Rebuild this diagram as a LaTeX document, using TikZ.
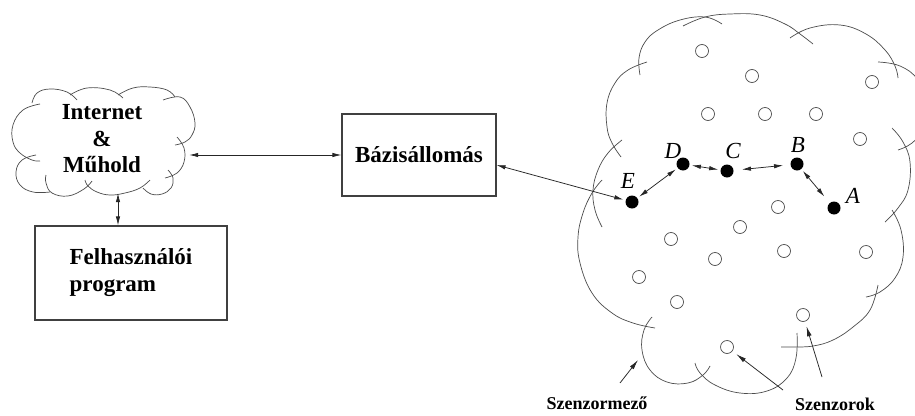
\documentclass[tikz,border=0pt]{standalone}
\usepackage{fontspec}
\setmainfont{Liberation Serif}
\usetikzlibrary{arrows.meta}

\tikzset{
  cloudline/.style={draw=black!70, line width=0.7pt},
  box/.style={draw=black!75, line width=1.1pt, font=\bfseries\fontsize{23}{27}\selectfont},
  link/.style={draw=black!85, line width=0.75pt, {Latex[length=9pt,width=4.4pt]}-{Latex[length=9pt,width=4.4pt]}},
  pointer/.style={draw=black!85, line width=0.75pt, -{Latex[length=10pt,width=4.6pt]}},
  sensor/.style={circle, draw=black!70, line width=0.7pt, fill=white, minimum size=13pt, inner sep=0pt},
  dot/.style={circle, fill=black, minimum size=13pt, inner sep=0pt, outer sep=2.5pt},
  letter/.style={font=\itshape\fontsize{23}{26}\selectfont, inner sep=0pt},
  caption/.style={font=\bfseries\fontsize{18}{21}\selectfont, inner sep=0pt},
}

\begin{document}
\begin{tikzpicture}[x=1pt, y=-1pt]
\path[use as bounding box, fill=white] (0,0) rectangle (915,415);

% ---------- Internet & satellite cloud ----------
\node[align=center, font=\bfseries\fontsize{23}{26.5}\selectfont,
      minimum width=174pt, minimum height=108pt, inner sep=0pt] (net) at (102,139)
  {Internet\\\&\\Műhold};
\draw[cloudline] plot[smooth, tension=0.7] coordinates {(32,103) (37,93) (50,89) (67,92) (77,100)};
\draw[cloudline] plot[smooth, tension=0.7] coordinates {(70,95) (87,88) (110,90) (123,98)};
\draw[cloudline] plot[smooth, tension=0.7] coordinates {(118,95) (133,88) (150,87) (167,90) (175,97)};
\draw[cloudline] plot[smooth, tension=0.7] coordinates {(163,100) (180,97) (190,107) (195,123) (192,135) (185,142) (175,145)};
\draw[cloudline] plot[smooth, tension=0.7] coordinates {(177,137) (184,148) (184,162) (177,173) (165,178)};
\draw[cloudline] plot[smooth, tension=0.7] coordinates {(168,170) (173,178) (171,188) (162,194) (151,194) (143,188)};
\draw[cloudline] plot[smooth, tension=0.7] coordinates {(150,180) (140,188) (125,193) (110,195) (97,192) (88,186) (85,180)};
\draw[cloudline] plot[smooth, tension=0.7] coordinates {(92,181) (84,189) (68,196) (52,193) (46,183) (46,175)};
\draw[cloudline] plot[smooth, tension=0.7] coordinates {(36,155) (22,160) (16,172) (20,185) (33,192) (50,192)};
\draw[cloudline] plot[smooth, tension=0.7] coordinates {(40,104) (23,110) (13,125) (13,142) (20,153) (32,160) (40,161)};

% ---------- boxes ----------
\node[box, minimum width=154pt, minimum height=82pt] (base) at (419,155) {Bázisállomás};
\node[box, minimum width=192pt, minimum height=94pt, align=left,
      font=\bfseries\fontsize{23}{27}\selectfont] (prog) at (131,273)
  {Felhasználói\\program};

% ---------- sensor field cloud ----------
\draw[cloudline] plot[smooth, tension=0.7] coordinates {(640,75) (639,58) (645,42) (658,30) (680,20) (705,17) (722,24)};
\draw[cloudline] plot[smooth, tension=0.7] coordinates {(683,26) (705,17) (730,14) (760,15) (785,24) (800,34) (813,44)};
\draw[cloudline] plot[smooth, tension=0.7] coordinates {(790,38) (810,28) (840,25) (866,34) (885,50) (895,66) (898,78)};
\draw[cloudline] plot[smooth, tension=0.7] coordinates {(878,62) (900,66) (918,80) (928,105) (924,128) (912,143) (898,150)};
\draw[cloudline] plot[smooth, tension=0.7] coordinates {(892,128) (903,142) (910,162) (908,190) (898,208) (885,222)};
\draw[cloudline] plot[smooth, tension=0.7] coordinates {(892,210) (901,230) (903,257) (895,278) (880,292) (866,297)};
\draw[cloudline] plot[smooth, tension=0.7] coordinates {(878,285) (870,310) (853,327) (833,340) (813,346) (793,347) (781,347)};
\draw[cloudline] plot[smooth, tension=0.7] coordinates {(797,333) (796,358) (787,378) (767,391) (740,393) (715,385) (700,373) (695,363)};
\draw[cloudline] plot[smooth, tension=0.7] coordinates {(652,317) (644,330) (642,350) (650,370) (667,382) (688,383) (703,375) (710,366)};
\draw[cloudline] plot[smooth, tension=0.7] coordinates {(602,180) (592,193) (583,213) (578,237) (580,263) (592,293) (612,313) (633,323) (655,328)};
\draw[cloudline] plot[smooth, tension=0.7] coordinates {(622,140) (608,153) (598,170) (593,190) (595,210) (602,227)};
\draw[cloudline] plot[smooth, tension=0.7] coordinates {(647,62) (628,70) (615,83) (607,103) (607,127) (612,143) (621,157)};

% ---------- idle sensors ----------
\foreach \n/\p in {s1/{(702,51)}, s2/{(752,76)}, s3/{(872,82)}, s4/{(708,114)},
                   s5/{(765,114)}, s6/{(816,114)}, s7/{(860,139)}, s8/{(778,207)},
                   s9/{(740,227)}, s10/{(671,239)}, s11/{(715,259)}, s12/{(784,251)},
                   s13/{(866,252)}, s14/{(639,277)}, s15/{(677,302)}, s16/{(803,315)},
                   s17/{(727,347)}}
  \node[sensor] (\n) at \p {};

% ---------- routing path ----------
\node[dot] (E) at (632,202) {};
\node[dot] (D) at (683,164) {};
\node[dot] (C) at (727,171) {};
\node[dot] (B) at (797,164) {};
\node[dot] (A) at (834,208) {};
\node[letter] (lE) at (628,181) {E};
\node[letter] (lD) at (673,151) {D};
\node[letter] (lC) at (733,151) {C};
\node[letter] (lB) at (798,145) {B};
\node[letter] (lA) at (853,196) {A};

% ---------- connectors ----------
\coordinate (vx) at (118,200);
\draw[link] (net.east |- base.west) -- (base.west);
\draw[link] (vx |- net.south) -- (vx |- prog.north);
\draw[link] ([yshift=-10pt]base.east) -- (E);
\draw[link] (E) -- (D);
\draw[link] (D) -- (C);
\draw[link, shorten <=6pt, shorten >=5pt] (C) -- (B);
\draw[link, shorten >=6pt] (B) -- (A);

% ---------- captions ----------
\node[caption] (field) at (597,403) {Szenzormező};
\node[caption] (sens) at (835,404) {Szenzorok};
\coordinate (fieldtail) at (620,383);
\coordinate (fieldtip) at (638,360);
\coordinate (senstail1) at (783,390);
\coordinate (senstail2) at (822,377);
\draw[pointer] (fieldtail) -- (fieldtip);
\draw[pointer, shorten >=5pt] (senstail1) -- (s17);
\draw[pointer, shorten >=5pt] (senstail2) -- (s16);
\end{tikzpicture}
\end{document}
